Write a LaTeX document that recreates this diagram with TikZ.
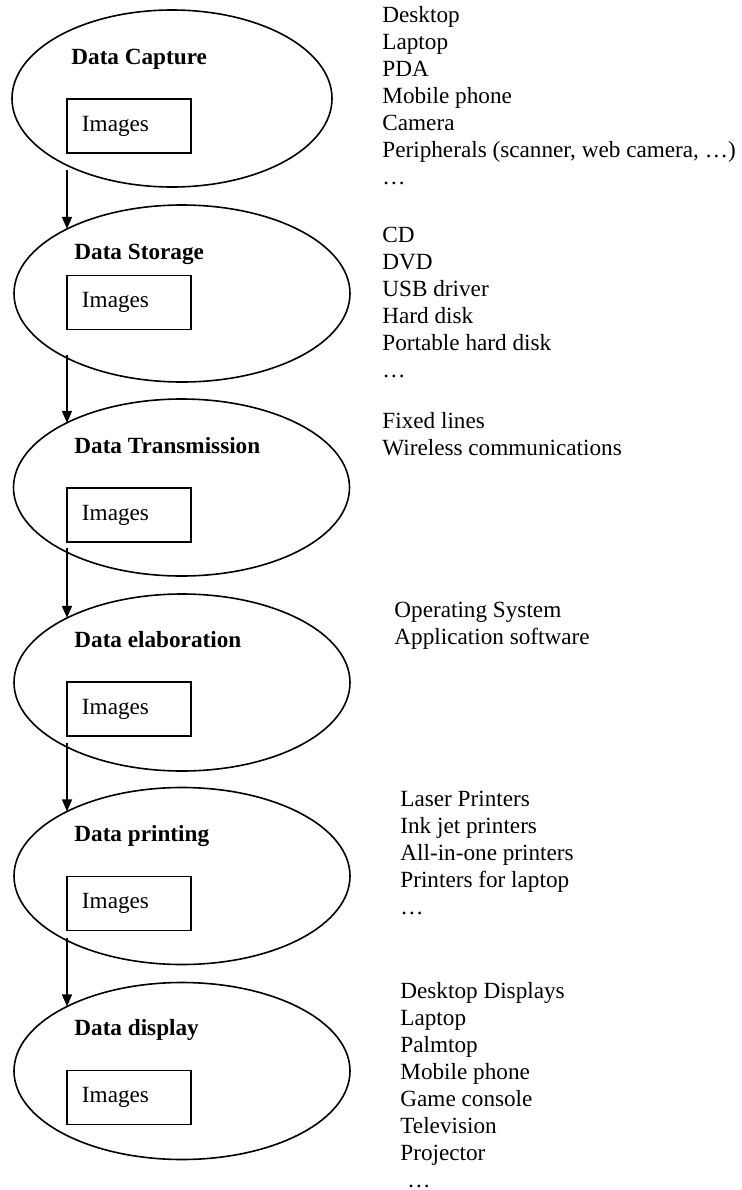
\documentclass[tikz,border=0pt]{standalone}
\usepackage{fontspec}
\setmainfont{Liberation Serif}
\usetikzlibrary{shapes.geometric,arrows.meta}

\tikzset{
	stage/.style={draw,ellipse,line width=0.8pt,inner sep=0,minimum width=168pt,minimum height=88.5pt},
	title/.style={anchor=base west,inner sep=0,font=\fontsize{11.6pt}{13.5pt}\selectfont\bfseries},
	imgbox/.style={draw,rectangle,line width=0.8pt,inner xsep=7.5pt,inner ysep=0,text width=47pt,minimum height=27pt,align=left,font=\fontsize{11.6pt}{13.5pt}\selectfont},
	devices/.style={anchor=north west,inner sep=0,align=left,font=\fontsize{11.6pt}{13.5pt}\selectfont},
	flow/.style={-{Triangle[length=6pt,width=5pt]},line width=0.8pt}
}

\begin{document}
\begin{tikzpicture}[x=0.5pt,y=-0.5pt]
	\useasboundingbox (0,0) rectangle (741,1190);
	\node[stage,minimum width=160pt] (capture) at (172,98.5) {};
	\node[stage] (storage) at (182,293.5) {};
	\node[stage] (transmission) at (181.5,487.5) {};
	\node[stage] (elaboration) at (182,682.5) {};
	\node[stage] (printing) at (182,876) {};
	\node[stage] (display) at (182,1071) {};
	\node[title] (capturetitle) at (71,64.5) {Data Capture};
	\node[title] (storagetitle) at (74,259.5) {Data Storage};
	\node[title] (transmissiontitle) at (74,453.5) {Data Transmission};
	\node[title] (elaborationtitle) at (74,647.5) {Data elaboration};
	\node[title] (printingtitle) at (74,841.5) {Data printing};
	\node[title] (displaytitle) at (74,1035.5) {Data display};
	\node[imgbox] (captureimg) at (129,126) {Images};
	\node[imgbox] (storageimg) at (129,302.5) {Images};
	\node[imgbox] (transmissionimg) at (129,515) {Images};
	\node[imgbox] (elaborationimg) at (129,709) {Images};
	\node[imgbox] (printingimg) at (129,903.5) {Images};
	\node[imgbox] (displayimg) at (129,1097.5) {Images};
	\coordinate (out1) at (67,170);
	\coordinate (out2) at (67,355);
	\coordinate (out3) at (67,548);
	\coordinate (out4) at (67,743);
	\coordinate (out5) at (67,938);
	\draw[flow] (out1) -- (out1 |- storage.151);
	\draw[flow] (out2) -- (out2 |- transmission.151);
	\draw[flow] (out3) -- (out3 |- elaboration.151);
	\draw[flow] (out4) -- (out4 |- printing.151);
	\draw[flow] (out5) -- (out5 |- display.151);
	\node[devices] (capturelist) at (382,6) {Desktop\\Laptop\\PDA\\Mobile phone\\Camera\\Peripherals (scanner, web camera, …)\\…};
	\node[devices] (storagelist) at (382,227) {CD\\DVD\\USB driver\\Hard disk\\Portable hard disk\\…};
	\node[devices] (transmissionlist) at (382,412) {Fixed lines\\Wireless communications};
	\node[devices] (elaborationlist) at (394,601.5) {Operating System\\Application software};
	\node[devices] (printinglist) at (400,791) {Laser Printers\\Ink jet printers\\All-in-one printers\\Printers for laptop\\…};
	\node[devices] (displaylist) at (400,982) {Desktop Displays\\Laptop\\Palmtop\\Mobile phone\\Game console\\Television\\Projector\\\hspace{3.5pt}…};
\end{tikzpicture}
\end{document}
